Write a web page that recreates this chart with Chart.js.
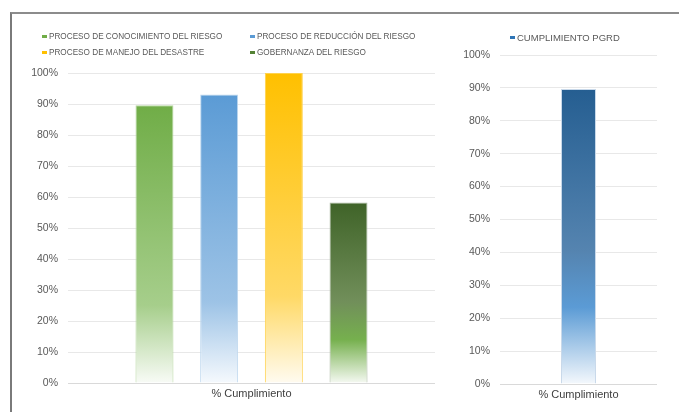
<!DOCTYPE html>
<html>
<head>
<meta charset="utf-8">
<script src="https://cdn.jsdelivr.net/npm/chart.js@4.4.1/dist/chart.umd.min.js"></script>
<style>
  html, body { margin: 0; padding: 0; background: #fff; }
  body { width: 679px; height: 412px; position: relative; overflow: hidden; font-family: "Liberation Sans", Arial, sans-serif; }
  #frame { position: absolute; left: 10px; top: 12px; right: 0; bottom: 0; border-top: 2px solid #8c8c8c; border-left: 2px solid #7a7a7a; }
  .wrap { position: absolute; top: 0; height: 412px; }
  #leftWrap { left: 0; width: 440px; }
  #rightWrap { left: 440px; width: 239px; }
  .legend { position: absolute; display: grid; color: #595959; white-space: nowrap; }
  #leftLegend { left: 42px; top: 32px; grid-template-columns: 208px auto; row-gap: 7px; font-size: 8.2px; }
  #rightLegend { left: 510px; top: 32px; font-size: 9.5px; }
  .item { display: flex; align-items: center; }
  .mark { width: 5px; height: 3px; margin-right: 2px; }
</style>
</head>
<body>
<div id="frame"></div>
<div class="wrap" id="leftWrap"><canvas id="mainChart"></canvas></div>
<div class="wrap" id="rightWrap"><canvas id="pgrdChart"></canvas></div>
<div class="legend" id="leftLegend"></div>
<div class="legend" id="rightLegend"></div>
<script>
// data
const categories = ["% Cumplimiento"];
const seriesNames = [
  "PROCESO DE CONOCIMIENTO DEL RIESGO",
  "PROCESO DE REDUCCIÓN DEL RIESGO",
  "PROCESO DE MANEJO DEL DESASTRE",
  "GOBERNANZA DEL RIESGO"
];
const conocimiento = [89.6];
const reduccion = [93.1];
const manejo = [100];
const gobernanza = [58.2];
const pgrdName = "CUMPLIMIENTO PGRD";
const pgrd = [89.7];
const yTicks = [0, 10, 20, 30, 40, 50, 60, 70, 80, 90, 100];

// gradient stops per series (top of bar -> base)
const FILLS = [
  { mark: "#70AD47", border: "#B5D6A0", stops: [[0, "#70AD47"], [0.72, "#A6CE8B"], [1, "#F8FBF6"]] },
  { mark: "#5B9BD5", border: "#BDD7EE", stops: [[0, "#5B9BD5"], [0.72, "#9DC3E6"], [1, "#F5F9FD"]] },
  { mark: "#FFC000", border: "#FFD24D", stops: [[0, "#FFC000"], [0.72, "#FFD966"], [1, "#FFFBF0"]] },
  { mark: "#548235", border: "#A9B7A0", stops: [[0, "#3F6328"], [0.55, "#718F5A"], [0.76, "#76B04E"], [1, "#F5F9F2"]] }
];
const PGRD_FILL = { mark: "#2E75B6", border: "#C9D9EA", stops: [[0, "#255E91"], [0.55, "#5584B0"], [0.74, "#5B9BD5"], [1, "#F4F8FC"]] };

const FONT = "'Liberation Sans', Arial, sans-serif";
const TEXT = "#595959";

function barGradient(fill){
  return (c) => {
    const chart = c.chart;
    if (c.type !== "data" || c.raw == null || !chart.scales.y) return fill.mark;
    const y = chart.scales.y;
    const top = y.getPixelForValue(c.raw);
    const base = y.getPixelForValue(0);
    if (!isFinite(top) || !isFinite(base) || base <= top) return fill.mark;
    const g = chart.ctx.createLinearGradient(0, top, 0, base);
    fill.stops.forEach(s => g.addColorStop(s[0], s[1]));
    return g;
  };
}

function baseOptions(pad, cp, bp){
  return {
    animation: false,
    responsive: true,
    maintainAspectRatio: false,
    layout: { padding: pad },
    datasets: { bar: { categoryPercentage: cp, barPercentage: bp } },
    plugins: { legend: { display: false }, tooltip: { enabled: false } },
    scales: {
      x: {
        grid: { display: false, drawTicks: false },
        border: { display: false },
        ticks: { color: "#404040", padding: 4, font: { family: FONT, size: 11 } },
        afterFit: s => { s.height = 22; }
      },
      y: {
        min: 0, max: 100,
        afterBuildTicks: s => { s.ticks = yTicks.map(v => ({ value: v })); },
        ticks: { color: TEXT, padding: 10, font: { family: FONT, size: 10.5 }, callback: v => v + "%" },
        grid: { drawTicks: false, color: c => c.tick && c.tick.value === 0 ? "#D9D9D9" : "#E8E8E8", lineWidth: 1 },
        border: { display: false },
        afterFit: s => { s.width = 48; }
      }
    }
  };
}

const mainSeries = [conocimiento, reduccion, manejo, gobernanza];

new Chart(document.getElementById("mainChart").getContext("2d"), {
  type: "bar",
  data: {
    labels: categories,
    datasets: mainSeries.map((vals, i) => ({
      label: seriesNames[i],
      data: vals,
      backgroundColor: barGradient(FILLS[i]),
      borderColor: FILLS[i].border,
      borderWidth: 1
    }))
  },
  options: baseOptions({ left: 20, right: 5, top: 73, bottom: 7 }, 0.705, 0.587)
});

new Chart(document.getElementById("pgrdChart").getContext("2d"), {
  type: "bar",
  data: {
    labels: categories,
    datasets: [{
      label: pgrdName,
      data: pgrd,
      backgroundColor: barGradient(PGRD_FILL),
      borderColor: PGRD_FILL.border,
      borderWidth: 1
    }]
  },
  options: baseOptions({ left: 12, right: 22, top: 55, bottom: 6 }, 0.5, 0.446)
});

// html legends
function legendItem(text, color){
  const d = document.createElement("div");
  d.className = "item";
  d.innerHTML = `<span class="mark" style="background:${color}"></span><span></span>`;
  d.lastChild.textContent = text;
  return d;
}
const ll = document.getElementById("leftLegend");
seriesNames.forEach((n, i) => ll.appendChild(legendItem(n, FILLS[i].mark)));
document.getElementById("rightLegend").appendChild(legendItem(pgrdName, PGRD_FILL.mark));
</script>
</body>
</html>
